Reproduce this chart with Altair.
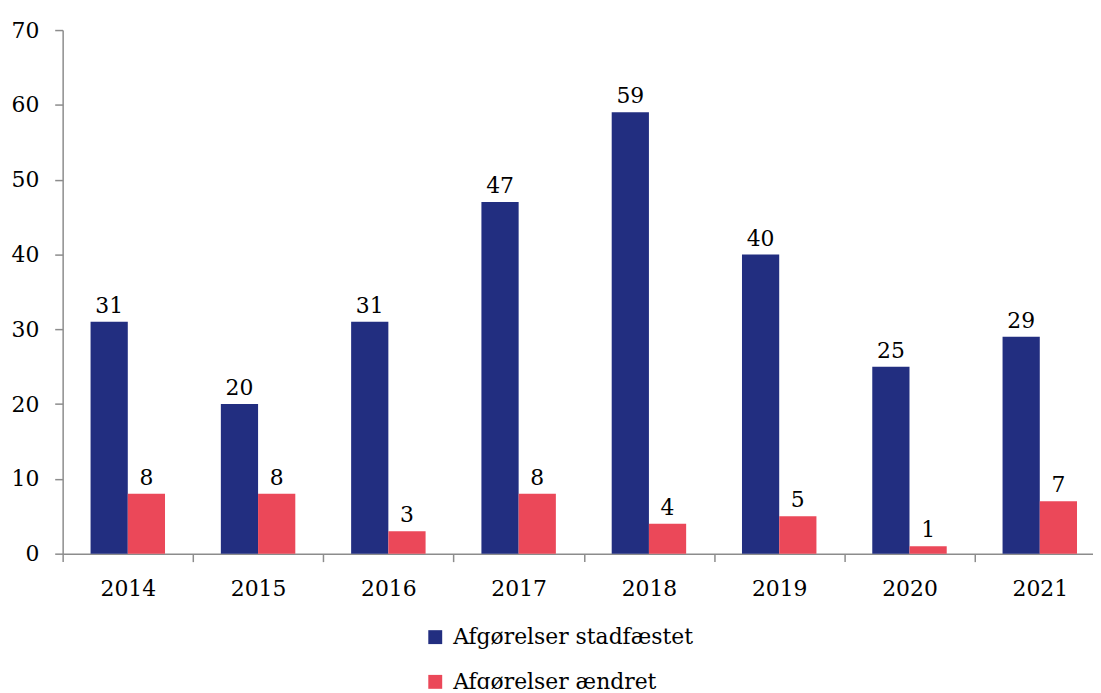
import altair as alt
import pandas as pd

years = ["2014", "2015", "2016", "2017", "2018", "2019", "2020", "2021"]
stadfaestet = [31, 20, 31, 47, 59, 40, 25, 29]
aendret = [8, 8, 3, 8, 4, 5, 1, 7]
series = ["Afgørelser stadfæstet", "Afgørelser ændret"]
colors = ["#222E80", "#EB4859"]

rows = []
for i, y in enumerate(years):
    rows.append({"year": y, "serie": series[0], "value": stadfaestet[i]})
    rows.append({"year": y, "serie": series[1], "value": aendret[i]})
df = pd.DataFrame(rows)

FONT = "DejaVu Serif"
FS = 22

x_enc = alt.X("year:N", sort=years, title=None,
              scale=alt.Scale(paddingInner=0, paddingOuter=0),
              axis=alt.Axis(labelAngle=0, tickBand="extent", labelFont=FONT,
                            labelFontSize=FS, labelColor="#000", labelPadding=17,
                            domainColor="#8c8c8c", domainWidth=1.5, tickColor="#8c8c8c",
                            tickWidth=1.5, tickSize=8, grid=False))
xo_enc = alt.XOffset("serie:N", sort=series,
                     scale=alt.Scale(paddingInner=0, paddingOuter=0.75))

base = alt.Chart(df)

bars = base.mark_bar().encode(
    x=x_enc,
    xOffset=xo_enc,
    y=alt.Y("value:Q", title=None,
            scale=alt.Scale(domain=[0, 70], nice=False),
            axis=alt.Axis(values=[0, 10, 20, 30, 40, 50, 60, 70], labelFont=FONT,
                          labelFontSize=FS, labelColor="#000", labelPadding=16,
                          domainColor="#8c8c8c", domainWidth=1.5, tickColor="#8c8c8c",
                          tickWidth=1.5, tickSize=8, grid=False)),
    color=alt.Color("serie:N", sort=series,
                    scale=alt.Scale(domain=series, range=colors),
                    legend=alt.Legend(title=None, orient="none", legendX=364, legendY=600,
                                      direction="vertical", symbolType="square",
                                      symbolSize=196, symbolStrokeWidth=0, labelFont=FONT,
                                      labelFontSize=FS, labelColor="#000", labelLimit=500,
                                      rowPadding=23, labelOffset=7, padding=0)),
)

labels = base.mark_text(font=FONT, fontSize=FS, color="#000", baseline="alphabetic",
                        dy=-9).encode(
    x=alt.X("year:N", sort=years),
    xOffset=alt.XOffset("serie:N", sort=series),
    y=alt.Y("value:Q"),
    text=alt.Text("value:Q"),
)

chart = alt.layer(bars, labels).properties(
    width=1049, height=527,
    autosize=alt.AutoSizeParams(type="none"),
    padding={"left": 55, "top": 20, "right": -12, "bottom": 134},
).configure_view(stroke=None)

chart.save("out.html", embed_options={"renderer": "svg", "actions": False})
